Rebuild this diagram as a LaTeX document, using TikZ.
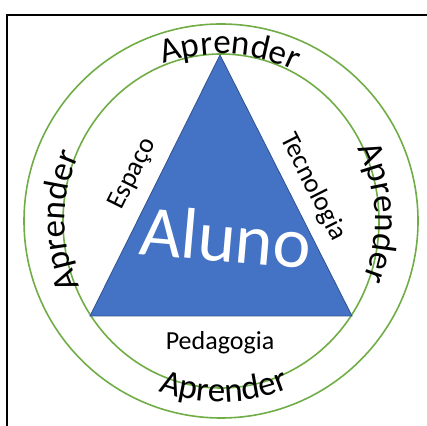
\documentclass[tikz,border=0pt]{standalone}
\usepackage{fontspec}
\setmainfont{Carlito}
\usetikzlibrary{decorations.text,calc}

\definecolor{ringgreen}{HTML}{70AD47}
\definecolor{triblue}{HTML}{4472C4}
\definecolor{triedge}{HTML}{2F528F}
\newcommand{\aprfont}{\fontsize{35}{35}\selectfont}

\begin{document}
\begin{tikzpicture}[
  x=1pt,y=1pt,
  ring/.style={draw=ringgreen,line width=1.6pt},
  side/.style={font=\fontsize{27}{28}\selectfont,inner sep=0pt},
  learn/.style={decorate,decoration={text along path,text align=center,
    text={|\aprfont|Aprender}}}]
\path[use as bounding box] (0,0) rectangle (427,425);
\draw[line width=1.8pt] (7,-20) rectangle (450,410);
\coordinate (cen) at (221,204);
% the two rings
\draw[ring] (cen) circle[radius=197];
\draw[ring] (cen) ellipse[x radius=158,y radius=167];
% triangle
\coordinate (apex) at (220,370);
\coordinate (bl) at (90,109);
\coordinate (br) at (352,109);
\draw[fill=triblue,draw=triedge,line width=0.8pt] (apex) -- (br) -- (bl) -- cycle;
\node[font=\fontsize{72}{72}\selectfont,text=white,rotate=-5] (aluno) at (226,188) {Aluno};
\node[side,rotate=63.5] (espaco) at (133,251) {Espaço};
\node[side,rotate=-63.2] (tecno) at (313,238) {Tecnologia};
\node[side,font=\fontsize{26}{27}\selectfont] (pedag) at (220,82) {Pedagogia};
% Aprender round the ring
\path[learn] ($(cen)+(147:167)$) arc[start angle=147,end angle=27,radius=167];
\path[learn] ($(cen)+(250:156)$) arc[start angle=250,end angle=110,radius=156];
\path[learn] ($(cen)+(73:154)$) arc[start angle=73,end angle=-67,radius=154];
\path[learn] ($(cen)+(211:181)$) arc[start angle=211,end angle=331,radius=181];
\end{tikzpicture}
\end{document}
